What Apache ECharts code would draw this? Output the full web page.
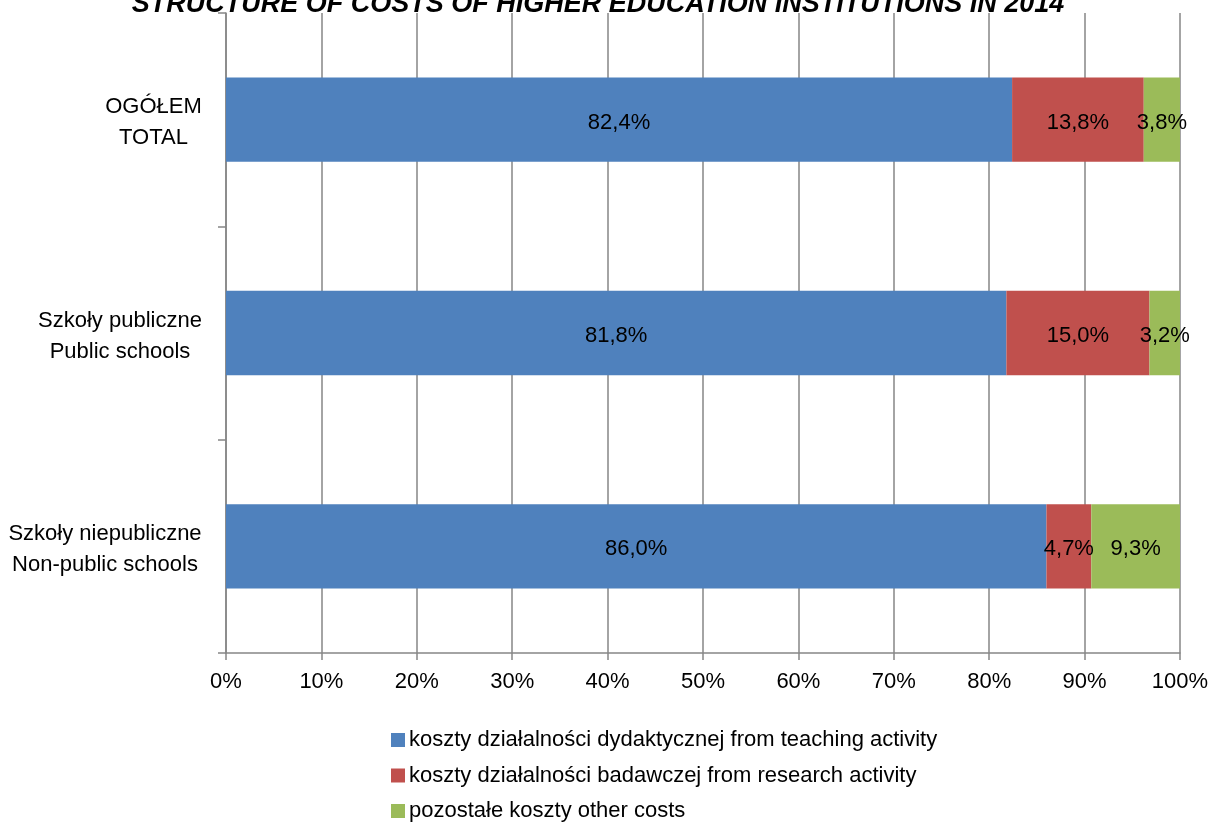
<!DOCTYPE html>
<html><head><meta charset="utf-8">
<script src="https://cdn.jsdelivr.net/npm/echarts@6/dist/echarts.min.js"></script>
<style>html,body{margin:0;padding:0;background:#fff}#c{width:1211px;height:822px}</style>
</head><body><div id="c"></div>
<script>
const categories = ['OGÓŁEM\nTOTAL', 'Szkoły publiczne\nPublic schools', 'Szkoły niepubliczne\nNon-public schools'];
const teaching = [82.4, 81.8, 86.0];
const research = [13.8, 15.0, 4.7];
const other = [3.8, 3.2, 9.3];
const seriesNames = ['koszty działalności dydaktycznej from teaching activity', 'koszty działalności badawczej from research activity', 'pozostałe koszty other costs'];
const xTicks = [0, 10, 20, 30, 40, 50, 60, 70, 80, 90, 100];
const titleText = 'STRUCTURE OF COSTS OF HIGHER EDUCATION INSTITUTIONS IN 2014';

const FONT = '"Liberation Sans Narrow", "Arial Narrow", "Liberation Sans", Arial, sans-serif';
const FS = 22;
const ctx = document.createElement('canvas').getContext('2d');
ctx.font = FS + 'px ' + FONT;
const rich = {};
categories.forEach((c, i) => {
  const w = Math.max(...c.split('\n').map(l => ctx.measureText(l).width));
  rich['r' + i] = { width: Math.ceil(w), align: 'center', fontSize: FS, fontFamily: FONT, color: '#000', lineHeight: 31 };
});

const colors = ['#4F81BD', '#C0504D', '#9BBB59'];
const fmt = p => p.value.toFixed(1).replace('.', ',') + '%';
const mk = (name, data, i) => ({
  name, type: 'bar', stack: 'a', data, barWidth: '39.5%',
  itemStyle: { color: colors[i] },
  label: { show: true, position: 'inside', formatter: fmt, color: '#000', fontSize: FS, fontFamily: FONT, offset: [0, 3] },
  emphasis: { disabled: true }
});

const chart = echarts.init(document.getElementById('c'), null, { renderer: 'canvas' });
chart.setOption({
  animation: false,
  title: { text: titleText, left: 593, textAlign: 'center', top: -14,
    textStyle: { fontSize: 27, fontWeight: 'bold', fontStyle: 'italic', fontFamily: FONT, color: '#000' } },
  grid: { left: 226, right: 31, top: 13, bottom: 169, containLabel: false, outerBoundsMode: 'none' },
  xAxis: {
    type: 'value', min: 0, max: 100, interval: 10,
    axisLine: { show: true, lineStyle: { color: '#868686', width: 1.5 } },
    axisTick: { show: true, length: 7, lineStyle: { color: '#868686', width: 1.5 } },
    splitLine: { show: true, lineStyle: { color: '#868686', width: 1.5 } },
    axisLabel: { formatter: v => xTicks.includes(v) ? v + '%' : '', fontSize: FS, fontFamily: FONT, color: '#000', margin: 18 }
  },
  yAxis: {
    type: 'category', data: categories, inverse: true,
    axisLine: { show: true, lineStyle: { color: '#868686', width: 1.5 } },
    axisTick: { show: true, length: 8, lineStyle: { color: '#868686', width: 1.5 } },
    axisLabel: { margin: 24, padding: [6, 0, 0, 0], formatter: (v, i) => v.split('\n').map(l => '{r' + i + '|' + l + '}').join('\n'), rich }
  },
  legend: {
    orient: 'vertical', left: 391, top: 728, height: 120, itemWidth: 14, itemHeight: 14, itemGap: 11.5, icon: 'rect',
    data: seriesNames, selectedMode: false, padding: 0,
    textStyle: { fontSize: FS, fontFamily: FONT, color: '#000', lineHeight: 24, padding: [0, 0, 0, -1] }
  },
  series: [mk(seriesNames[0], teaching, 0), mk(seriesNames[1], research, 1), mk(seriesNames[2], other, 2)]
});
</script></body></html>
